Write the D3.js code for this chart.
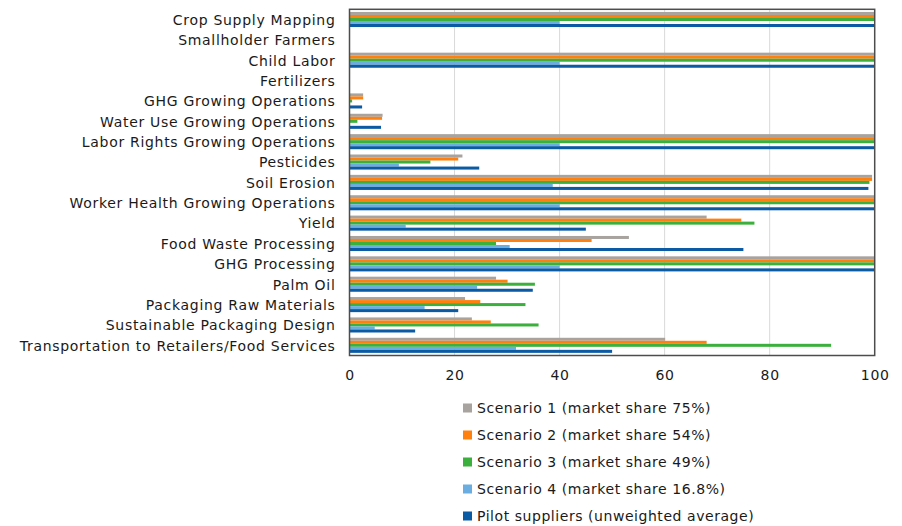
<!DOCTYPE html>
<html>
<head>
<meta charset="utf-8">
<script src="https://cdn.jsdelivr.net/npm/d3@7"></script>
<style>
  html, body { margin: 0; padding: 0; background: #fff; }
  svg { display: block; font-family: Verdana, "DejaVu Sans", sans-serif; }
</style>
</head>
<body>
<svg id="chart" width="902" height="526"></svg>
<script>
// Topics assessed, top to bottom
const categories = [
  "Crop Supply Mapping",
  "Smallholder Farmers",
  "Child Labor",
  "Fertilizers",
  "GHG Growing Operations",
  "Water Use Growing Operations",
  "Labor Rights Growing Operations",
  "Pesticides",
  "Soil Erosion",
  "Worker Health Growing Operations",
  "Yield",
  "Food Waste Processing",
  "GHG Processing",
  "Palm Oil",
  "Packaging Raw Materials",
  "Sustainable Packaging Design",
  "Transportation to Retailers/Food Services"
];

const seriesNames = [
  "Scenario 1 (market share 75%)",
  "Scenario 2 (market share 54%)",
  "Scenario 3 (market share 49%)",
  "Scenario 4 (market share 16.8%)",
  "Pilot suppliers (unweighted average)"
];

const scenario1 = [100, 0, 100, 0, 2.6, 6.3, 100, 21.5, 99.5, 100, 68.0, 53.2, 100, 27.9, 22.0, 23.3, 60.1];
const scenario2 = [100, 0, 100, 0, 2.6, 6.2, 100, 20.7, 99.5, 100, 74.6, 46.1, 100, 30.1, 24.9, 26.9, 68.0];
const scenario3 = [100, 0, 100, 0, 0.5, 1.5, 100, 15.4, 99.0, 100, 77.1, 27.9, 100, 35.3, 33.5, 36.0, 91.7];
const scenario4 = [40, 0, 40, 0, 0, 0, 40, 9.4, 38.7, 40, 10.7, 30.5, 40, 24.3, 14.3, 4.8, 31.7];
const pilot     = [100, 0, 100, 0, 2.4, 6.0, 100, 24.7, 98.8, 100, 45.0, 75.0, 100, 34.9, 20.7, 12.5, 50.0];

const xTicks = [0, 20, 40, 60, 80, 100];

const colors = ["#a8a39e", "#ff800e", "#3cb03c", "#6aade0", "#0b5aa4"];

const seriesValues = [scenario1, scenario2, scenario3, scenario4, pilot];

const svg = d3.select("#chart");
const margin = { left: 349.5, right: 902 - 874.7, top: 9.3, bottom: 526 - 355.5 };
const width = 902 - margin.left - margin.right;
const height = 526 - margin.top - margin.bottom;

const textFont = "Verdana, 'DejaVu Sans', sans-serif";
const textSize = 14;
const textSpacing = 0.7;

const g = svg.append("g").attr("transform", `translate(${margin.left},${margin.top})`);

const x = d3.scaleLinear().domain([0, 100]).range([0, width]);
const y = d3.scaleBand().domain(categories).range([0, height]).paddingInner(0.26).paddingOuter(0.13);
const ySub = d3.scaleBand().domain(d3.range(seriesNames.length)).range([0, y.bandwidth()]);

// vertical gridlines
g.append("g")
  .selectAll("line")
  .data(xTicks.filter(t => t > 0 && t < 100))
  .join("line")
  .attr("x1", d => x(d)).attr("x2", d => x(d))
  .attr("y1", 0).attr("y2", height)
  .attr("stroke", "#d9d9d9").attr("stroke-width", 1);

// bars
const groups = g.append("g")
  .selectAll("g")
  .data(categories)
  .join("g")
  .attr("transform", d => `translate(0,${y(d)})`);

groups.selectAll("rect")
  .data((d, i) => seriesValues.map((vals, s) => ({ s, v: vals[i] })))
  .join("rect")
  .attr("x", 0)
  .attr("y", d => ySub(d.s))
  .attr("width", d => x(d.v))
  .attr("height", ySub.bandwidth())
  .attr("fill", d => colors[d.s]);

// plot frame
g.append("rect")
  .attr("x", 0).attr("y", 0)
  .attr("width", width).attr("height", height)
  .attr("fill", "none")
  .attr("stroke", "#4d4d4d").attr("stroke-width", 1.5);

// category labels
const yAxis = d3.axisLeft(y).tickSize(0).tickPadding(14);
const yg = g.append("g").call(yAxis);
yg.select(".domain").remove();
yg.selectAll("text")
  .attr("font-size", textSize)
  .attr("font-family", textFont)
  .attr("letter-spacing", textSpacing)
  .attr("dy", "0.38em")
  .attr("fill", "#1a1a1a");

// value axis labels
const xAxis = d3.axisBottom(x).tickValues(xTicks).tickSize(0).tickPadding(15);
const xg = g.append("g").attr("transform", `translate(0,${height})`).call(xAxis);
xg.select(".domain").remove();
xg.selectAll("text")
  .attr("font-size", textSize)
  .attr("font-family", textFont)
  .attr("letter-spacing", textSpacing)
  .attr("fill", "#1a1a1a");

// legend
const legend = svg.append("g").attr("transform", "translate(463,408)");
const items = legend.selectAll("g")
  .data(seriesNames)
  .join("g")
  .attr("transform", (d, i) => `translate(0,${i * 27})`);
items.append("rect")
  .attr("x", 0).attr("y", -4.5)
  .attr("width", 9).attr("height", 9)
  .attr("fill", (d, i) => colors[i]);
items.append("text")
  .attr("x", 14).attr("y", 0)
  .attr("dy", "0.35em")
  .attr("font-size", textSize)
  .attr("letter-spacing", 0.55)
  .attr("fill", "#1a1a1a")
  .text(d => d);
</script>
</body>
</html>
